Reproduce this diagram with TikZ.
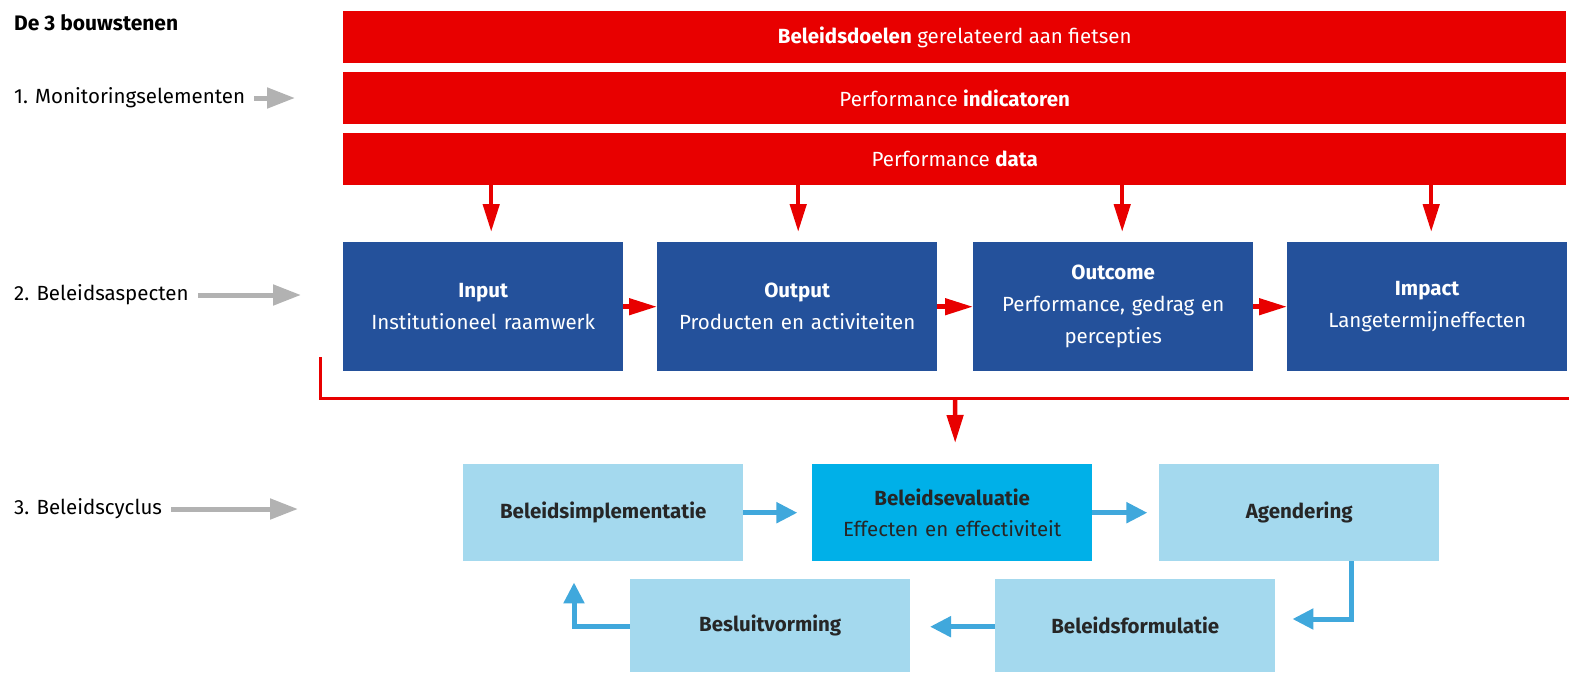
\documentclass[tikz,border=0pt]{standalone}
\usepackage{fontspec}
\setmainfont{Fira Sans}
\definecolor{red1}{RGB}{232, 0, 0}
\definecolor{blue1}{RGB}{36, 81, 155}
\definecolor{lblue1}{RGB}{164, 217, 238}
\definecolor{cyan1}{RGB}{0, 176, 232}
\definecolor{arrblue}{RGB}{64, 168, 220}
\definecolor{grey1}{RGB}{178, 178, 178}
\usetikzlibrary{arrows.meta, positioning, calc}

\begin{document}
\begin{tikzpicture}[x=1pt, y=-1pt,
    every node/.style={font=\fontsize{20.5}{32}\selectfont},
    redbar/.style={fill=red1, text=white, anchor=north west, minimum width=1223pt, minimum height=52pt, inner sep=0pt},
    aspect/.style={fill=blue1, text=white, anchor=north west, minimum width=280pt, minimum height=129pt, text width=270pt, align=center, inner sep=0pt},
    cycle/.style={fill=lblue1, text=black!85, anchor=north west, minimum width=280pt, minimum height=97pt, text width=270pt, align=center, inner sep=0pt, font=\fontsize{20.5}{31}\selectfont\bfseries},
    redarr/.style={red1, line width=4.5pt, -{Triangle[width=16pt, length=28pt]}},
    bluearr/.style={arrblue, line width=5pt, -{Triangle[width=20pt, length=21pt]}},
    greyarr/.style={grey1, line width=5pt, -{Triangle[width=20pt, length=28pt]}},
    lbl/.style={anchor=west, inner sep=0pt, text=black}
  ]
  \useasboundingbox (0,0) rectangle (1569,673);

  % left column
  \node[lbl, font=\fontsize{21}{24}\selectfont\bfseries] (title) at (14,23) {De 3 bouwstenen};
  \node[lbl] (lab1) at (14,98) {1. Monitoringselementen};
  \node[lbl] (lab2) at (14,295) {2. Beleidsaspecten};
  \node[lbl] (lab3) at (14,509) {3. Beleidscyclus};
  \coordinate (g1) at (295,98);
  \coordinate (g2) at (301,295);
  \coordinate (g3) at (298,509);
  \draw[greyarr] ($(lab1.east)+(9,0)$) -- (g1);
  \draw[greyarr] ($(lab2.east)+(9,0)$) -- (g2);
  \draw[greyarr] ($(lab3.east)+(9,0)$) -- (g3);

  % monitoring
  \node[redbar] (doel) at (343,11) {\textbf{Beleidsdoelen} gerelateerd aan fietsen};
  \node[redbar] (ind) at (343,72) {Performance \textbf{indicatoren}};
  \node[redbar] (data) at (343,133) {Performance \textbf{data}};

  % aspecten
  \node[aspect] (input) at (343,242) {\textbf{Input}\\Institutioneel raamwerk};
  \node[aspect] (output) at (657,242) {\textbf{Output}\\Producten en activiteiten};
  \node[aspect] (outcome) at (973,242) {\textbf{Outcome}\\Performance, gedrag en\\percepties};
  \node[aspect] (impact) at (1287,242) {\textbf{Impact}\\Langetermijneffecten};

  \foreach \n/\dx in {input/8, output/1, outcome/9, impact/4}
    \draw[redarr] ($(data.south -| \n.center)+(\dx,0)$) -- ($(\n.north)+(\dx,-10)$);
  \draw[redarr] (input) -- (output);
  \draw[redarr] (output) -- (outcome);
  \draw[redarr] (outcome) -- (impact);

  % beleidscyclus
  \node[cycle] (impl) at (463,464) {Beleidsimplementatie};
  \node[cycle, fill=cyan1] (eval) at (812,464) {Beleidsevaluatie\\\mdseries Effecten en effectiviteit};
  \node[cycle] (agenda) at (1159,464) {Agendering};
  \node[cycle, minimum height=93pt] (besluit) at (630,579) {Besluitvorming};
  \node[cycle, minimum height=93pt] (form) at (995,579) {Beleidsformulatie};

  \coordinate (split) at (955,398);
  \coordinate (redstart) at (320,357);
  \coordinate (redend) at (1569,398);
  \draw[red1, line width=3pt] (redstart) |- (redend);
  \draw[redarr] (split) -- ($(eval.north)+(3,-21)$);

  \coordinate (agdown) at ($(agenda.south west)+(192,0)$);
  \draw[bluearr] (impl.east) -- ++(54,0);
  \draw[bluearr] (eval.east) -- ++(55,0);
  \draw[bluearr] (agdown) |- ($(form.north east)+(17,40)$);
  \draw[bluearr] ($(form.west)+(0,1)$) -- ++(-65,0);
  \draw[bluearr] ($(besluit.west)+(0,1)$) -| ($(impl.south west)+(111,21)$);
\end{tikzpicture}
\end{document}
